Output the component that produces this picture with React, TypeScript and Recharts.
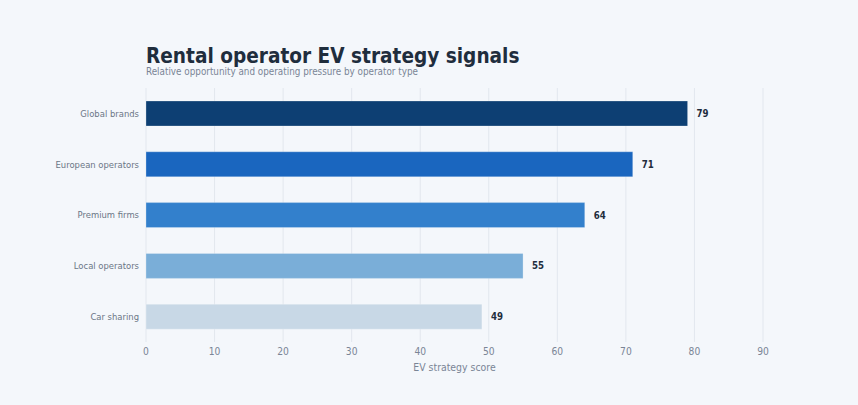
import React from "react";
import {
  BarChart,
  Bar,
  XAxis,
  YAxis,
  CartesianGrid,
  Cell,
  LabelList,
} from "recharts";

const operators = [
  "Global brands",
  "European operators",
  "Premium firms",
  "Local operators",
  "Car sharing",
];
const scores = [79, 71, 64, 55, 49];
const barColors = ["#0d3f73", "#1a66bf", "#3380cc", "#7aaed8", "#c8d8e6"];
const xTicks = [0, 10, 20, 30, 40, 50, 60, 70, 80, 90];

const FONT = "'DejaVu Sans Condensed', 'DejaVu Sans', sans-serif";

const chartData = operators.map((name, i) => ({ name, score: scores[i] }));

const App: React.FC = () => {
  return (
    <div
      style={{
        position: "relative",
        width: 858,
        height: 405,
        background: "#f4f7fb",
        fontFamily: FONT,
      }}
    >
      <style>{`body { margin: 0; }`}</style>
      <div
        style={{
          position: "absolute",
          left: 146,
          top: 43,
          fontSize: 20.6,
          fontWeight: 700,
          color: "#1f2d3d",
          whiteSpace: "nowrap",
          lineHeight: "26px",
        }}
      >
        Rental operator EV strategy signals
      </div>
      <div
        style={{
          position: "absolute",
          left: 146,
          top: 65,
          fontSize: 9.8,
          color: "#7a8596",
          whiteSpace: "nowrap",
          lineHeight: "13px",
        }}
      >
        Relative opportunity and operating pressure by operator type
      </div>
      <BarChart
        width={858}
        height={405}
        data={chartData}
        layout="vertical"
        margin={{ top: 88, right: 95, bottom: 33, left: 0 }}
        style={{ position: "absolute", left: 0, top: 0 }}
      >
        <CartesianGrid horizontal={false} stroke="#e2e7ee" />
        <XAxis
          type="number"
          domain={[0, 90]}
          ticks={xTicks}
          axisLine={false}
          tickLine={false}
          tickSize={0}
          tickMargin={6}
          height={30}
          tick={{ fill: "#7a8596", fontSize: 10.2, fontFamily: FONT }}
          label={{
            value: "EV strategy score",
            position: "insideBottom",
            offset: 1,
            fill: "#7a8596",
            fontSize: 10.4,
            fontFamily: FONT,
          }}
        />
        <YAxis
          type="category"
          dataKey="name"
          width={146}
          axisLine={false}
          tickLine={false}
          tickSize={0}
          tickMargin={7}
          tick={{ fill: "#6b7686", fontSize: 9.4, fontFamily: FONT }}
        />
        <Bar
          dataKey="score"
          barSize={25}
          isAnimationActive={false}
          stroke="rgba(255,255,255,0.25)"
          strokeWidth={1}
        >
          {chartData.map((d, i) => (
            <Cell key={d.name} fill={barColors[i]} />
          ))}
          <LabelList
            dataKey="score"
            position="right"
            offset={9}
            fill="#1f2d3d"
            fontSize={9.6}
            fontWeight={700}
            fontFamily={FONT}
          />
        </Bar>
      </BarChart>
    </div>
  );
};

export default App;
